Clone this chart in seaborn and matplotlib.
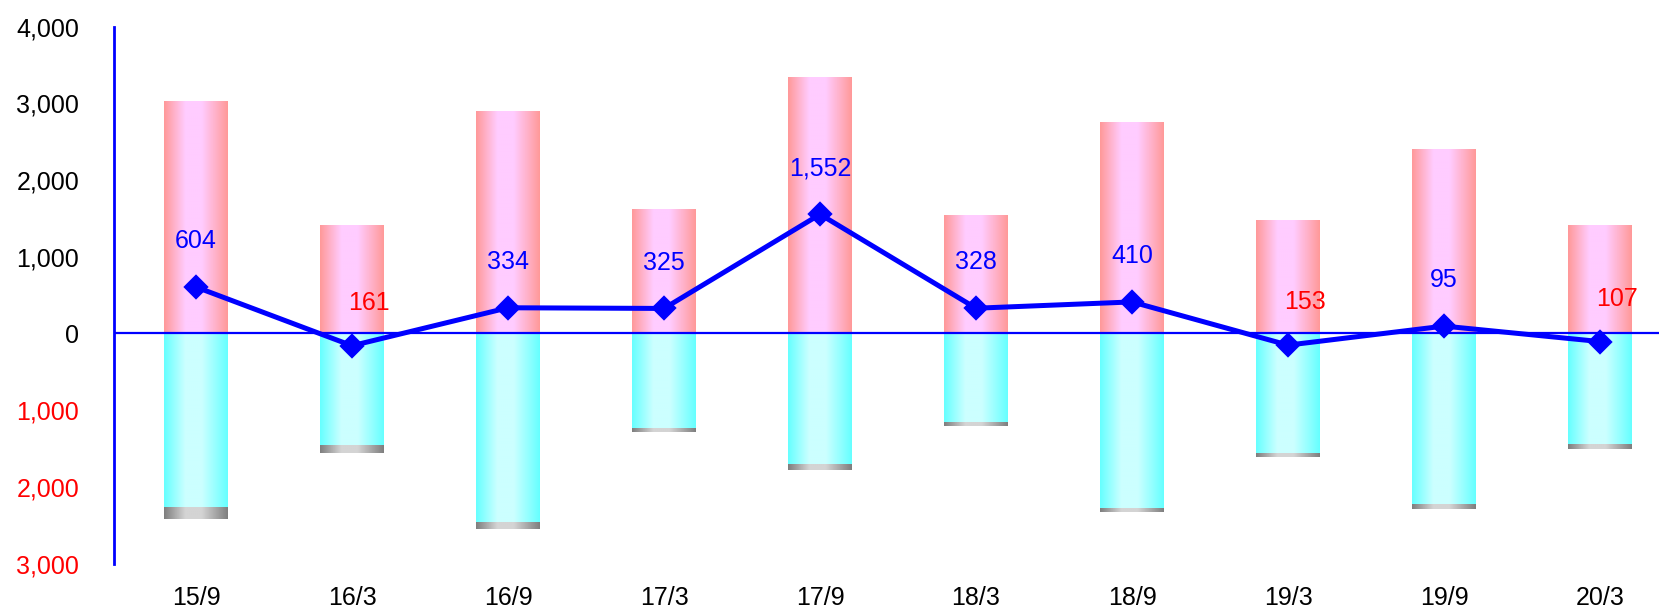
import numpy as np
import matplotlib
matplotlib.use("Agg")
import matplotlib.pyplot as plt
import matplotlib.colors as mcolors
import seaborn as sns

sns.set_style("white")
plt.rcParams["font.family"] = ["Liberation Sans", "DejaVu Sans"]

# ----------------------------------------------------------
# DATA
# ----------------------------------------------------------
periods = ["15/9", "16/3", "16/9", "17/3", "17/9", "18/3", "18/9", "19/3", "19/9", "20/3"]
gross_pos = [3024, 1403, 2884, 1607, 3336, 1532, 2740, 1463, 2390, 1404]
neg_main = [2265, 1450, 2464, 1230, 1697, 1152, 2278, 1555, 2226, 1443]
neg_cap = [155, 114, 86, 52, 87, 52, 52, 61, 69, 68]
net = [604, -161, 334, 325, 1552, 328, 410, -153, 95, -107]

yticks = [-3000, -2000, -1000, 0, 1000, 2000, 3000, 4000]


def gradient(edge, mid, peak=0.45, n=96):
    t = np.linspace(0, 1, n)
    w = np.where(t < peak, t / peak, (1 - t) / (1 - peak))
    w = np.clip(w * 1.35, 0, 1)
    e = np.array(mcolors.to_rgb(edge))
    m = np.array(mcolors.to_rgb(mid))
    img = e[None, :] * (1 - w[:, None]) + m[None, :] * w[:, None]
    return img[None, :, :]


fig = plt.figure(figsize=(16.59, 6.11), dpi=100)
ax = fig.add_axes([0.0687, 0.0777, 1 - 0.0687, 0.9566 - 0.0777])

neg_total = [-(a + b) for a, b in zip(neg_main, neg_cap)]
neg_top = [-a for a in neg_main]

groups = [
    (neg_total, "#7f7f7f", "#d4d4d4"),
    (neg_top, "#66ffff", "#ccffff"),
    (gross_pos, "#ff9999", "#ffccff"),
]

for vals, edge, mid in groups:
    n_before = len(ax.patches)
    sns.barplot(x=periods, y=vals, color=edge, width=0.41, errorbar=None, ax=ax)
    img = gradient(edge, mid)
    for p in ax.patches[n_before:]:
        x0, y0 = p.get_x(), p.get_y()
        x1, y1 = x0 + p.get_width(), y0 + p.get_height()
        ax.imshow(img, extent=[x0, x1, min(y0, y1), max(y0, y1)],
                  aspect="auto", zorder=2, interpolation="bilinear")
        p.set_facecolor("none")
        p.set_edgecolor("none")

ax.axhline(0, color="blue", lw=1.6, zorder=3)

sns.pointplot(x=periods, y=net, color="blue", marker="D", markersize=10,
              linewidth=3.6, errorbar=None, ax=ax, zorder=5)

for i, v in enumerate(net):
    if v >= 0:
        ax.annotate(f"{v:,}", xy=(i, v), xytext=(0, 33), textcoords="offset points",
                    ha="center", va="center", color="blue", fontsize=18, zorder=6)
    else:
        ax.annotate(f"{abs(v):,}", xy=(i, v), xytext=(12, 31), textcoords="offset points",
                    ha="center", va="center", color="red", fontsize=18, zorder=6)

ax.set_xlim(-0.526, 9.378)
ax.set_ylim(-3000, 4000)
ax.set_yticks(yticks)
ax.set_yticklabels([f"{abs(v):,}" for v in yticks])
for lab, v in zip(ax.get_yticklabels(), yticks):
    lab.set_color("red" if v < 0 else "black")
for lab in ax.get_xticklabels():
    lab.set_color("black")
ax.set_xlabel("")
ax.set_ylabel("")

for s in ["top", "right", "bottom"]:
    ax.spines[s].set_visible(False)
ax.spines["left"].set_color("blue")
ax.spines["left"].set_linewidth(2)
ax.tick_params(axis="y", direction="out", length=8, width=1.5, color="blue",
               pad=17, labelsize=18)
ax.tick_params(axis="x", length=0, pad=16, labelsize=18)
ax.grid(False)

fig.savefig("out.png", dpi=100)
